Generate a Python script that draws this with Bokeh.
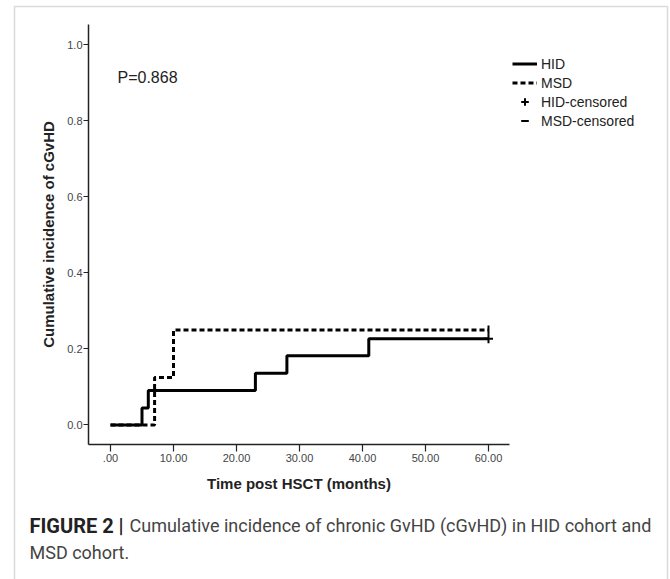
from bokeh.plotting import figure
from bokeh.models import (Range1d, FixedTicker, Label, Legend, LegendItem, BoxAnnotation)
from bokeh.embed import file_html
from bokeh.resources import INLINE
import math

# ---- data ----
hid_time = [0, 5, 6, 23, 28, 41, 60]
hid_cum = [0.0, 0.045, 0.091, 0.136, 0.182, 0.227, 0.227]
msd_time = [0, 7, 10, 60]
msd_cum = [0.0, 0.125, 0.25, 0.25]
hid_censor_time = [60]
hid_censor_cum = [0.227]
msd_censor_time = [60]
msd_censor_cum = [0.25]
x_ticks = [0, 10, 20, 30, 40, 50, 60]
x_tick_labels = [".00", "10.00", "20.00", "30.00", "40.00", "50.00", "60.00"]
y_ticks = [0.0, 0.2, 0.4, 0.6, 0.8, 1.0]
y_tick_labels = ["0.0", "0.2", "0.4", "0.6", "0.8", "1.0"]
series_names = ["HID", "MSD", "HID-censored", "MSD-censored"]
p_value_text = "P=0.868"
x_title = "Time post HSCT (months)"
y_title = "Cumulative incidence of cGvHD"
caption_bold = "FIGURE 2 |"
caption_line1 = "Cumulative incidence of chronic GvHD (cGvHD) in HID cohort and"
caption_line2 = "MSD cohort."

FONT = "Liberation Sans"
CAP_FONT = "Roboto"

W, H = 670, 579
# extents of the chart's axes in data units
X_LO, X_HI = -3.49, 63.33
Y_LO, Y_HI = -0.051, 1.054
# whole canvas mapped to data so that texts can sit outside the axes box
p = figure(width=W, height=H, output_backend="svg", toolbar_location=None,
           x_range=Range1d(-17.46, 88.89), y_range=Range1d(-0.4066, 1.1171),
           min_border=0, min_border_left=0, min_border_right=0,
           min_border_top=0, min_border_bottom=0)
p.outline_line_color = None
p.grid.visible = False
p.background_fill_color = "white"
p.border_fill_color = "white"

# axes
p.xaxis.fixed_location = Y_LO
p.yaxis.fixed_location = X_LO
p.xaxis.bounds = (X_LO, X_HI)
p.yaxis.bounds = (Y_LO, Y_HI)
p.xaxis.ticker = FixedTicker(ticks=x_ticks)
p.xaxis.major_label_overrides = dict(zip(x_ticks, x_tick_labels))
p.yaxis.ticker = FixedTicker(ticks=y_ticks)
p.yaxis.major_label_overrides = dict(zip(y_ticks, y_tick_labels))
for ax in (p.xaxis[0], p.yaxis[0]):
    ax.axis_line_color = "#222222"
    ax.axis_line_width = 1.5
    ax.major_tick_line_color = "#222222"
    ax.major_tick_line_width = 1.2
    ax.major_tick_in = 0
    ax.minor_tick_line_color = None
    ax.major_label_text_font = FONT
    ax.major_label_text_font_size = "11px"
    ax.major_label_text_color = "#444444"
    ax.axis_label_text_font = FONT
    ax.axis_label_text_font_style = "bold"
    ax.axis_label_text_font_size = "15px"
    ax.axis_label_text_color = "#222222"
p.xaxis.major_tick_out = 7
p.yaxis.major_tick_out = 5
p.xaxis.major_label_standoff = 3
p.yaxis.major_label_standoff = 1
p.xaxis.axis_label = x_title
p.yaxis.axis_label = y_title
p.xaxis.axis_label_standoff = 9
p.yaxis.axis_label_standoff = 7

# curves
r_hid = p.step(hid_time, hid_cum, mode="after", line_color="black", line_width=3)
r_msd = p.step(msd_time, msd_cum, mode="after", line_color="black", line_width=3, line_dash="5 3")
r_hc = p.scatter(hid_censor_time, hid_censor_cum, marker="cross", size=9, line_color="black", line_width=2)
r_mc = p.scatter(msd_censor_time, msd_censor_cum, marker="dash", angle=math.pi / 2, size=9,
                 line_color="black", line_width=2)

legend = Legend(items=[LegendItem(label=series_names[0], renderers=[r_hid]),
                       LegendItem(label=series_names[1], renderers=[r_msd]),
                       LegendItem(label=series_names[2], renderers=[r_hc]),
                       LegendItem(label=series_names[3], renderers=[r_mc])],
                location=(512, H - 130), padding=0, margin=0, spacing=0,
                label_height=19, glyph_height=19, glyph_width=25, label_standoff=4,
                label_text_font=FONT, label_text_font_size="14px", label_text_color="#222222",
                border_line_color=None, background_fill_alpha=0)
p.add_layout(legend)

p.add_layout(Label(x=117, y=H - 77, x_units="screen", y_units="screen", text=p_value_text,
                   text_font=FONT, text_font_size="16px", text_color="#222222",
                   text_baseline="middle"))

# caption
p.add_layout(Label(x=29, y=H - 525, x_units="screen", y_units="screen", text=caption_bold,
                   text_font=CAP_FONT, text_font_style="bold", text_font_size="20px",
                   text_color="#222222", text_baseline="middle"))
p.add_layout(Label(x=129, y=H - 525, x_units="screen", y_units="screen", text=caption_line1,
                   text_font=CAP_FONT, text_font_size="18px",
                   text_color="#444444", text_baseline="middle"))
p.add_layout(Label(x=29, y=H - 552, x_units="screen", y_units="screen", text=caption_line2,
                   text_font=CAP_FONT, text_font_size="18px",
                   text_color="#444444", text_baseline="middle"))

# outer frame
p.add_layout(BoxAnnotation(left=14, right=667, top=H - 6, bottom=-50,
                           left_units="screen", right_units="screen",
                           top_units="screen", bottom_units="screen",
                           fill_alpha=0, line_color="#888888", line_width=1.5))

open("out.html", "w").write(file_html(p, INLINE))
